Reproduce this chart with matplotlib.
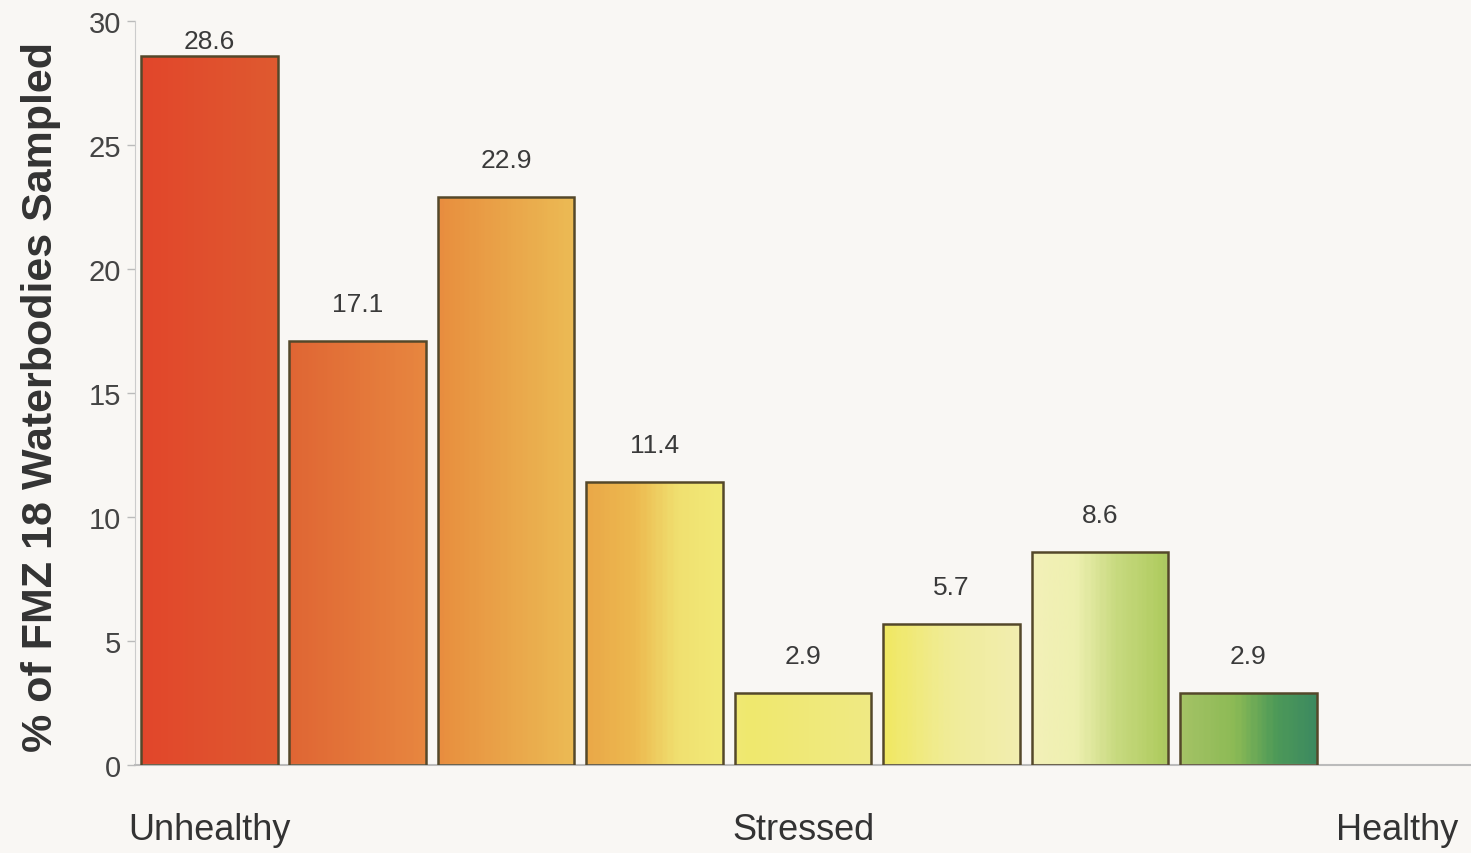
import matplotlib
matplotlib.use("Agg")
import matplotlib.pyplot as plt
import numpy as np
from matplotlib.colors import LinearSegmentedColormap

# share of waterbodies in each condition class, unhealthy -> healthy
values = [28.6, 17.1, 22.9, 11.4, 2.9, 5.7, 8.6, 2.9]
n_slots = 9
class_labels = ["Unhealthy", "Stressed", "Healthy"]
class_pos = [0, 4, 8]

# colour ramp along the x axis (position 0..1 across the axes)
ramp = [
    (0.000, "#e2462b"),
    (0.105, "#df5a30"),
    (0.115, "#e06634"),
    (0.220, "#e88840"),
    (0.230, "#e8903f"),
    (0.330, "#ecbc55"),
    (0.338, "#eaa848"),
    (0.375, "#edba50"),
    (0.405, "#f0e070"),
    (0.440, "#f2ea78"),
    (0.460, "#efe86e"),
    (0.550, "#f0ea84"),
    (0.560, "#f0e860"),
    (0.610, "#f0ec98"),
    (0.662, "#f2eeb0"),
    (0.672, "#f3f0b8"),
    (0.705, "#eef0b0"),
    (0.735, "#c8da80"),
    (0.770, "#b0cc60"),
    (0.780, "#a8c468"),
    (0.825, "#8cba55"),
    (0.855, "#4e9a58"),
    (0.885, "#3d8a60"),
    (1.000, "#2f7a58"),
]
cmap = LinearSegmentedColormap.from_list("health", ramp)

fig = plt.figure(figsize=(14.71, 8.54), dpi=100, facecolor="#f9f7f4")
ax = fig.add_axes([0.0918, 0.103, 0.9082, 0.871])
ax.set_facecolor("#f9f7f4")

x = np.arange(len(values))
bars = ax.bar(x, values, width=0.92, facecolor="none", edgecolor="#54482a",
              linewidth=1.8, zorder=3)

grad = np.linspace(0, 1, 600).reshape(1, -1)
for b in bars:
    im = ax.imshow(grad, cmap=cmap, aspect="auto", extent=(-0.5, n_slots - 0.5, 0, 30),
                   zorder=2, interpolation="bilinear")
    im.set_clip_path(b)

for xi, v in zip(x, values):
    ax.text(xi, min(v + 1.5, 29.2), f"{v}", ha="center", va="center",
            fontsize=19, color="#3a3a3a", family=["Liberation Sans", "DejaVu Sans"])

ax.set_xlim(-0.5, n_slots - 0.5)
ax.set_ylim(0, 30)
ax.set_yticks(range(0, 31, 5))
ax.tick_params(axis="y", length=6, width=1, color="#bbbbbb", labelsize=21,
               labelcolor="#444444", pad=4)
for lbl in ax.get_yticklabels():
    lbl.set_family(["Liberation Sans", "DejaVu Sans"])

ax.set_xticks(class_pos)
ax.set_xticklabels(class_labels, fontsize=26, color="#333333",
                   family=["Liberation Sans", "DejaVu Sans"])
ax.tick_params(axis="x", length=0, pad=34)

for s in ["top", "right"]:
    ax.spines[s].set_visible(False)
ax.spines["left"].set_color("#cccccc")
ax.spines["bottom"].set_color("#bbbbbb")
ax.spines["bottom"].set_linewidth(1.5)

fig.text(0.028, 0.535, "% of FMZ 18 Waterbodies Sampled", rotation=90,
         ha="center", va="center", fontsize=31, fontweight="bold", color="#333333",
         family=["Liberation Sans", "DejaVu Sans"])

fig.savefig("out.png", dpi=100, facecolor=fig.get_facecolor())
